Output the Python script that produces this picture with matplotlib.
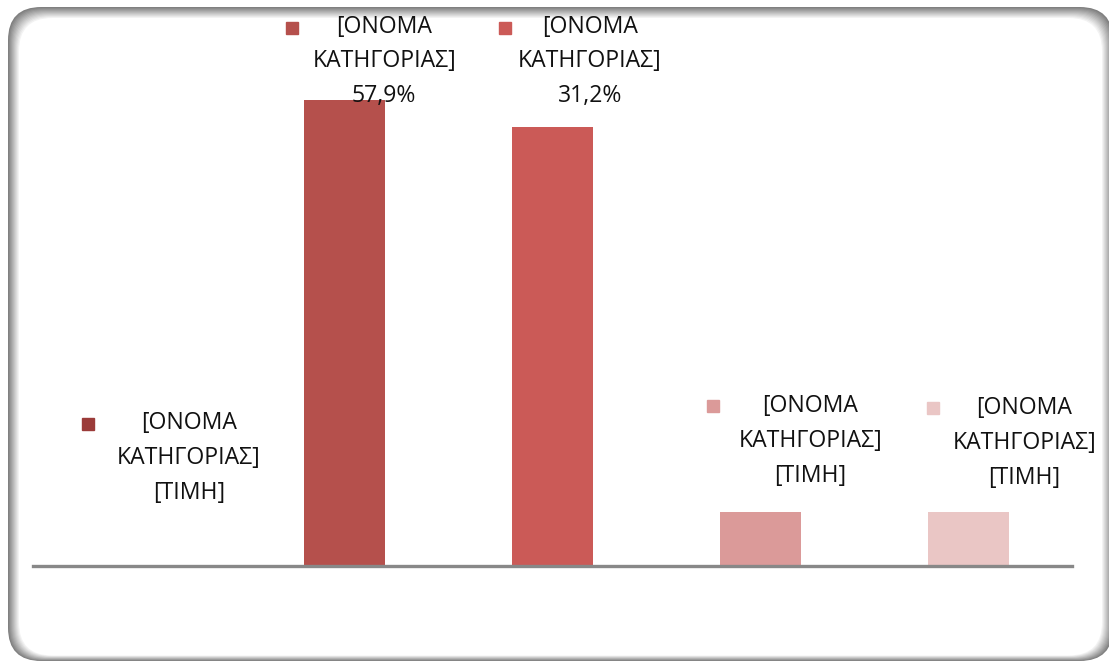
import numpy as np
import matplotlib.pyplot as plt
from matplotlib.patches import FancyBboxPatch

# bar heights (axis units), and the printed labels
categories = ['[ΟΝΟΜΑ\nΚΑΤΗΓΟΡΙΑΣ]'] * 5
heights = [0.0, 57.9, 54.5, 6.7, 6.7]
value_labels = ['[ΤΙΜΗ]', '57,9%', '31,2%', '[ΤΙΜΗ]', '[ΤΙΜΗ]']
colors = ['#9B3B39', '#B5504C', '#CB5A57', '#DB9A99', '#EAC6C5']

plt.rcParams['font.family'] = ['Open Sans', 'DejaVu Sans']

fig = plt.figure(figsize=(11.09, 6.64), dpi=100)

# rounded frame with soft grey shadow
for i, g in enumerate(np.linspace(0.5, 1.0, 12)):
    pad = i * 1.0
    fig.patches.append(FancyBboxPatch(
        ((8 + pad) / 1109, (3 + pad * 0.5) / 664),
        (1105 - 2 * pad) / 1109, (654 - pad * 1.5) / 664,
        boxstyle='round,pad=0,rounding_size=0.03',
        transform=fig.transFigure, facecolor=(g, g, g), edgecolor='none',
        mutation_aspect=1109 / 664, zorder=-10 + i * 0.1))

ax = fig.add_axes([33 / 1109, (664 - 566) / 664, 1039 / 1109, 499 / 664])
ax.set_facecolor('none')
x = np.arange(len(heights))
ax.bar(x, heights, width=0.39, color=colors, zorder=2)
ax.set_xlim(-0.5, 4.5)
ax.set_ylim(0, 62)
ax.axhline(0, color='#888888', lw=2.4, zorder=3, clip_on=False)
for s in ax.spines.values():
    s.set_visible(False)
ax.set_xticks([])
ax.set_yticks([])

# label layout: (text x offset, text middle y, marker x offset, marker y)
label_pos = [(0.25, 13.4, -0.236, 17.6),
             (0.19, 62.7, -0.255, 66.8),
             (0.18, 62.7, -0.23, 66.8),
             (0.24, 15.5, -0.23, 19.9),
             (0.27, 15.3, -0.17, 19.6)]
for i, (dx, ty, mx, my) in enumerate(label_pos):
    ax.text(x[i] + dx, ty, categories[i] + '\n' + value_labels[i],
            ha='center', va='center', fontsize=16.6, linespacing=1.6,
            color='#111111', clip_on=False, zorder=5)
    ax.plot(x[i] + mx, my, marker='s', ms=8, color=colors[i],
            clip_on=False, zorder=5)

fig.savefig('out.png', dpi=100)
